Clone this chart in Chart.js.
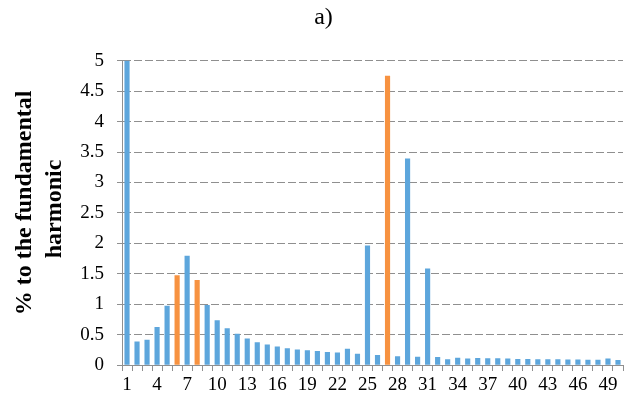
<!DOCTYPE html>
<html>
<head>
<meta charset="utf-8">
<script src="https://cdn.jsdelivr.net/npm/chart.js@4"></script>
<style>
  html, body { margin: 0; padding: 0; background: #fff; }
  #wrap { width: 629px; height: 402px; }
</style>
</head>
<body>
<div id="wrap"><canvas id="chart" width="629" height="402"></canvas></div>
<script>
// harmonic order
const harmonics = [1, 2, 3, 4, 5, 6, 7, 8, 9, 10,
  11, 12, 13, 14, 15, 16, 17, 18, 19, 20,
  21, 22, 23, 24, 25, 26, 27, 28, 29, 30,
  31, 32, 33, 34, 35, 36, 37, 38, 39, 40,
  41, 42, 43, 44, 45, 46, 47, 48, 49, 50];

// % to the fundamental harmonic
const percentValues = [5, 0.38, 0.41, 0.62, 0.97, 1.47, 1.79, 1.39, 0.98, 0.73,
  0.60, 0.51, 0.43, 0.37, 0.33, 0.30, 0.27, 0.25, 0.235, 0.225,
  0.21, 0.20, 0.26, 0.18, 1.96, 0.16, 4.75, 0.14, 3.39, 0.13,
  1.58, 0.125, 0.09, 0.115, 0.10, 0.11, 0.105, 0.105, 0.10, 0.095,
  0.095, 0.09, 0.09, 0.09, 0.085, 0.085, 0.08, 0.08, 0.10, 0.075];

// harmonics drawn in orange
const highlighted = [6, 8, 27];

// which labels show on the x axis
const shownLabels = [1, 4, 7, 10, 13, 16, 19, 22, 25, 28, 31, 34, 37, 40, 43, 46, 49];

// y axis title, one entry per line
const yTitleLines = ['% to the fundamental', 'harmonic'];

const blue = '#5DA6DC';
const orange = '#F79240';
const gridGray = '#8f8f8f';
const serif = "'Liberation Serif', 'Times New Roman', serif";

const barColors = harmonics.map(h => highlighted.includes(h) ? orange : blue);

// draws the two-line rotated y title left of the tick labels
const yTitlePlugin = {
    id: 'yTitle',
    afterDraw(chart) {
        const c = chart.ctx;
        const area = chart.chartArea;
        const mid = (area.top + area.bottom) / 2;
        c.save();
        c.fillStyle = '#000';
        c.font = 'bold 24px ' + serif;
        c.textAlign = 'center';
        c.textBaseline = 'middle';
        const xs = [25, 55];
        const shifts = [-10, -4];
        yTitleLines.forEach((line, i) => {
            c.save();
            c.translate(xs[i], mid + shifts[i]);
            c.rotate(-Math.PI / 2);
            c.fillText(line, 0, 0);
            c.restore();
        });
        c.restore();
    }
};

const ctx = document.getElementById('chart').getContext('2d');
new Chart(ctx, {
    type: 'bar',
    data: {
        labels: harmonics,
        datasets: [{
            data: percentValues,
            backgroundColor: barColors,
            barThickness: 4.5,
            borderWidth: 0
        }]
    },
    plugins: [yTitlePlugin],
    options: {
        responsive: false,
        animation: false,
        layout: { padding: { left: 24, right: 6, top: 0, bottom: 0 } },
        plugins: {
            legend: { display: false },
            tooltip: { enabled: false },
            title: {
                display: true,
                text: 'a)',
                color: '#000',
                font: { family: serif, size: 24, weight: 'normal', lineHeight: 1.2 },
                padding: { top: 3, bottom: 29 }
            }
        },
        scales: {
            x: {
                grid: {
                    display: true,
                    offset: true,
                    drawOnChartArea: false,
                    drawTicks: true,
                    tickLength: 6,
                    tickColor: gridGray
                },
                border: { display: true, color: gridGray, width: 1 },
                ticks: {
                    autoSkip: false,
                    maxRotation: 0,
                    color: '#000',
                    padding: 3,
                    font: { family: serif, size: 19 },
                    callback: function(value, index) {
                        const h = harmonics[index];
                        return shownLabels.includes(h) ? String(h) : '';
                    }
                },
                afterFit: function(scale) { scale.height = 37; }
            },
            y: {
                min: 0,
                max: 5,
                grid: {
                    color: gridGray,
                    drawTicks: true,
                    tickLength: 5,
                    tickBorderDash: [],
                    tickColor: gridGray
                },
                border: { display: true, color: gridGray, width: 1, dash: [8, 3] },
                ticks: {
                    stepSize: 0.5,
                    color: '#000',
                    padding: 13,
                    font: { family: serif, size: 19 },
                    callback: function(value) { return String(value); }
                },
                afterFit: function(scale) { scale.width = 98; }
            }
        }
    }
});
</script>
</body>
</html>
